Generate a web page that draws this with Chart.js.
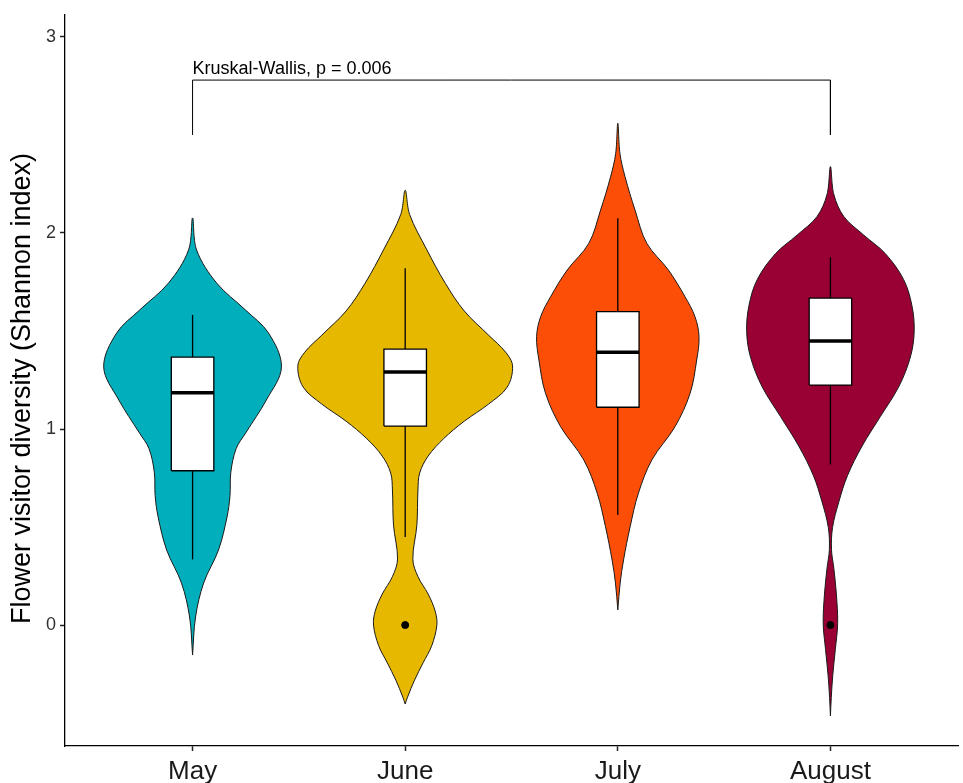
<!DOCTYPE html>
<html>
<head>
<meta charset="utf-8">
<script src="https://cdn.jsdelivr.net/npm/chart.js@4"></script>
<style>
  html, body { margin: 0; padding: 0; background: #fff; }
  #wrap { width: 963px; height: 783px; }
</style>
</head>
<body>
<div id="wrap"><canvas id="violinChart" width="963" height="783"></canvas></div>
<script>
// months on the x axis, in plotting order
const months = ["May", "June", "July", "August"];
const fills = ["#00AFBB", "#E7B800", "#FC4E07", "#990033"];

// violin outlines: Shannon index levels and density half-widths (category units)
const mayLevels = [-0.153, 0.041, 0.214, 0.383, 0.551, 0.66, 0.78, 0.9, 0.98, 1.148, 1.316, 1.49, 1.607, 1.745, 1.913, 2.077];
const mayWidths = [0, 0.014, 0.052, 0.122, 0.162, 0.176, 0.18, 0.205, 0.25, 0.347, 0.418, 0.357, 0.249, 0.113, 0.019, 0];

const juneLevels = [-0.403, -0.368, -0.281, -0.193, -0.105, 0.0, 0.071, 0.158, 0.247, 0.336, 0.511, 0.689, 0.775, 0.862, 0.951, 1.04, 1.127, 1.214, 1.321, 1.391, 1.479, 1.602, 1.743, 1.918, 2.094, 2.218];
const juneWidths = [0, 0.011, 0.044, 0.084, 0.125, 0.149, 0.141, 0.108, 0.06, 0.036, 0.055, 0.06, 0.068, 0.108, 0.181, 0.278, 0.392, 0.48, 0.505, 0.473, 0.392, 0.278, 0.189, 0.1, 0.021, 0];

const julyLevels = [0.077, 0.214, 0.332, 0.502, 0.673, 0.842, 1.012, 1.182, 1.352, 1.471, 1.573, 1.675, 1.811, 1.948, 2.117, 2.287, 2.406, 2.56];
const julyWidths = [0, 0.011, 0.027, 0.058, 0.097, 0.16, 0.269, 0.34, 0.371, 0.382, 0.363, 0.316, 0.238, 0.136, 0.081, 0.034, 0.01, 0];

const augustLevels = [-0.464, -0.37, -0.257, -0.125, 0.008, 0.158, 0.29, 0.385, 0.498, 0.63, 0.762, 0.913, 1.064, 1.215, 1.367, 1.498, 1.631, 1.763, 1.895, 1.99, 2.084, 2.197, 2.339];
const augustWidths = [0, 0.004, 0.011, 0.023, 0.034, 0.028, 0.016, 0.005, 0.01, 0.04, 0.08, 0.149, 0.235, 0.321, 0.376, 0.394, 0.383, 0.344, 0.258, 0.156, 0.063, 0.016, 0];

const violinLevels = [mayLevels, juneLevels, julyLevels, augustLevels];
const violinWidths = [mayWidths, juneWidths, julyWidths, augustWidths];

// box plot statistics per month
const q1 = [0.787, 1.015, 1.111, 1.224];
const medians = [1.185, 1.291, 1.391, 1.449];
const q3 = [1.367, 1.408, 1.599, 1.668];
const whiskerLow = [0.335, 0.449, 0.561, 0.819];
const whiskerHigh = [1.582, 1.82, 2.075, 1.876];
const outlierMonth = [1, 3];
const outlierValue = [0, 0];

// Kruskal-Wallis bracket spanning first to last month
const bracketFrom = 0;
const bracketTo = 3;
const bracketTop = 2.78;
const bracketFoot = 2.5;
const testLabel = "Kruskal-Wallis, p = 0.006";
const testLabelY = 2.81;

const yTicks = [0, 1, 2, 3];
const yTitle = "Flower visitor diversity (Shannon index)";
const boxHalf = 0.1;
const FONT = "'Liberation Sans', Arial, Helvetica, sans-serif";

const datasets = [];

months.forEach((m, i) => {
  const lv = violinLevels[i];
  const wd = violinWidths[i];
  // left side bottom to top, then right side top to bottom
  const outline = [];
  for (let k = 0; k < lv.length; k++) outline.push({ x: i - wd[k], y: lv[k] });
  for (let k = lv.length - 2; k >= 0; k--) outline.push({ x: i + wd[k], y: lv[k] });
  datasets.push({
    label: m + " violin",
    data: outline,
    backgroundColor: fills[i],
    borderColor: "#1a1a1a",
    borderWidth: 1,
    fill: "shape",
    tension: 0.35,
    pointRadius: 0,
    order: 10,
  });

  datasets.push({
    label: m + " whisker",
    data: [{ x: i, y: whiskerLow[i] }, { x: i, y: whiskerHigh[i] }],
    borderColor: "#000",
    borderWidth: 1.3,
    fill: false,
    tension: 0,
    pointRadius: 0,
    order: 8,
  });

  datasets.push({
    label: m + " box",
    data: [
      { x: i - boxHalf, y: q1[i] },
      { x: i - boxHalf, y: q3[i] },
      { x: i + boxHalf, y: q3[i] },
      { x: i + boxHalf, y: q1[i] },
      { x: i - boxHalf, y: q1[i] },
    ],
    backgroundColor: "#fff",
    borderColor: "#000",
    borderWidth: 1.3,
    fill: "shape",
    tension: 0,
    pointRadius: 0,
    order: 6,
  });

  datasets.push({
    label: m + " median",
    data: [{ x: i - boxHalf, y: medians[i] }, { x: i + boxHalf, y: medians[i] }],
    borderColor: "#000",
    borderWidth: 3.5,
    borderCapStyle: "butt",
    fill: false,
    tension: 0,
    pointRadius: 0,
    order: 4,
  });
});

datasets.push({
  label: "outliers",
  data: outlierMonth.map((m, k) => ({ x: m, y: outlierValue[k] })),
  showLine: false,
  pointRadius: 3.5,
  pointBackgroundColor: "#000",
  pointBorderColor: "#000",
  order: 1,
});

datasets.push({
  label: "bracket",
  data: [
    { x: bracketFrom, y: bracketFoot },
    { x: bracketFrom, y: bracketTop },
    { x: bracketTo, y: bracketTop },
    { x: bracketTo, y: bracketFoot },
  ],
  borderColor: "#000",
  borderWidth: 1,
  fill: false,
  tension: 0,
  pointRadius: 0,
  order: 0,
});

// p-value text above the bracket, and the y axis title
const textPlugin = {
  id: "plotText",
  afterDatasetsDraw(chart) {
    const { ctx, scales, chartArea } = chart;
    ctx.save();
    ctx.font = "18px " + FONT;
    ctx.fillStyle = "#000";
    ctx.textAlign = "left";
    ctx.textBaseline = "alphabetic";
    ctx.fillText(testLabel, scales.x.getPixelForValue(bracketFrom), scales.y.getPixelForValue(testLabelY));

    ctx.translate(23, (chartArea.top + chartArea.bottom) / 2 + 8);
    ctx.rotate(-Math.PI / 2);
    ctx.font = "27px " + FONT;
    ctx.textAlign = "center";
    ctx.textBaseline = "middle";
    ctx.fillText(yTitle, 0, 0);
    ctx.restore();
  },
};

const ctx = document.getElementById("violinChart").getContext("2d");

const chart = new Chart(ctx, {
  type: "line",
  data: { datasets: datasets },
  plugins: [textPlugin],
  options: {
    responsive: false,
    animation: false,
    layout: { padding: { top: 15, right: 0, bottom: 0, left: 0 } },
    plugins: {
      legend: { display: false },
      tooltip: { enabled: false },
    },
    scales: {
      x: {
        type: "linear",
        min: -0.6,
        max: 3.6,
        afterBuildTicks: (scale) => {
          scale.ticks = months.map((m, i) => ({ value: i }));
        },
        afterFit: (scale) => {
          scale.height = 37;
        },
        ticks: {
          autoSkip: false,
          maxRotation: 0,
          padding: 5,
          color: "#1a1a1a",
          font: { family: FONT, size: 26 },
          callback: (v) => months[v],
        },
        grid: {
          drawOnChartArea: false,
          drawTicks: true,
          tickLength: 5,
          tickColor: "#222",
          tickWidth: 1.5,
        },
        border: { color: "#000", width: 1.3 },
      },
      y: {
        min: -0.617,
        max: 3.112,
        afterBuildTicks: (scale) => {
          scale.ticks = yTicks.map((v) => ({ value: v }));
        },
        afterFit: (scale) => {
          scale.width = 65;
        },
        ticks: {
          padding: 4,
          color: "#333",
          font: { family: FONT, size: 18 },
        },
        grid: {
          drawOnChartArea: false,
          drawTicks: true,
          tickLength: 5,
          tickColor: "#222",
          tickWidth: 1.5,
        },
        border: { color: "#000", width: 1.3 },
      },
    },
  },
});
</script>
</body>
</html>
